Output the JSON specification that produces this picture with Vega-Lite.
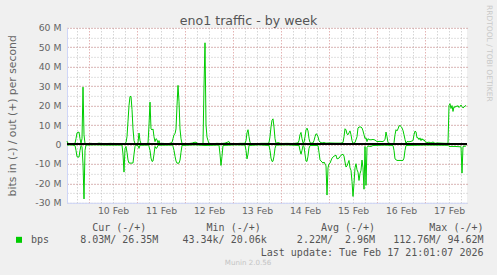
{
"$schema": "https://vega.github.io/schema/vega-lite/v6.json",
"autosize": "none",
"width": 400, "height": 175,
"padding": {"left": 67, "top": 27.83, "right": 30, "bottom": 72.17},
"background": "#f0f0f0",
"view": {"fill": "#ffffff", "stroke": null},
"title": {"text": "Munin 2.0.56", "orient": "bottom", "anchor": "middle", "frame": "group", "dx": -19, "offset": 2, "font": "DejaVu Sans", "fontSize": 7.1, "fontWeight": "normal", "color": "#c4c4c4"},
"config": {"font": "DejaVu Sans"},
"data": {"values": [
{"t":"2026-02-09T13:00Z","d":"o","v":1.7},{"t":"2026-02-09T13:30Z","d":"o","v":0.6},{"t":"2026-02-09T14:30Z","d":"o","v":0.4},{"t":"2026-02-09T16:00Z","d":"o","v":0.5},{"t":"2026-02-09T17:00Z","d":"o","v":0.6},{"t":"2026-02-09T17:30Z","d":"o","v":3},{"t":"2026-02-09T18:00Z","d":"o","v":6},{"t":"2026-02-09T19:00Z","d":"o","v":6.4},{"t":"2026-02-09T19:30Z","d":"o","v":3},{"t":"2026-02-09T20:00Z","d":"o","v":0.5},{"t":"2026-02-09T20:30Z","d":"o","v":3},{"t":"2026-02-09T21:00Z","d":"o","v":29.5},{"t":"2026-02-09T21:30Z","d":"o","v":5},{"t":"2026-02-09T22:00Z","d":"o","v":0.5},{"t":"2026-02-09T23:00Z","d":"o","v":0.4},
{"t":"2026-02-10T01:00Z","d":"o","v":0.6},{"t":"2026-02-10T03:00Z","d":"o","v":0.3},{"t":"2026-02-10T05:00Z","d":"o","v":0.7},{"t":"2026-02-10T07:00Z","d":"o","v":0.4},{"t":"2026-02-10T09:00Z","d":"o","v":0.5},{"t":"2026-02-10T11:00Z","d":"o","v":0.6},{"t":"2026-02-10T13:00Z","d":"o","v":0.3},{"t":"2026-02-10T15:00Z","d":"o","v":0.5},{"t":"2026-02-10T17:00Z","d":"o","v":0.3},{"t":"2026-02-10T18:00Z","d":"o","v":0.5},{"t":"2026-02-10T18:30Z","d":"o","v":1},{"t":"2026-02-10T19:00Z","d":"o","v":4},{"t":"2026-02-10T19:30Z","d":"o","v":12},{"t":"2026-02-10T20:00Z","d":"o","v":20},{"t":"2026-02-10T20:30Z","d":"o","v":24.7},{"t":"2026-02-10T21:00Z","d":"o","v":24.7},{"t":"2026-02-10T21:30Z","d":"o","v":18},{"t":"2026-02-10T22:00Z","d":"o","v":8},{"t":"2026-02-10T22:30Z","d":"o","v":2},{"t":"2026-02-10T23:00Z","d":"o","v":0.5},
{"t":"2026-02-11T00:00Z","d":"o","v":0.4},{"t":"2026-02-11T00:30Z","d":"o","v":1},{"t":"2026-02-11T01:00Z","d":"o","v":5.9},{"t":"2026-02-11T01:30Z","d":"o","v":2},{"t":"2026-02-11T02:00Z","d":"o","v":0.5},{"t":"2026-02-11T03:30Z","d":"o","v":0.4},{"t":"2026-02-11T05:30Z","d":"o","v":0.6},{"t":"2026-02-11T06:00Z","d":"o","v":10},{"t":"2026-02-11T06:30Z","d":"o","v":21.8},{"t":"2026-02-11T07:00Z","d":"o","v":8},{"t":"2026-02-11T07:30Z","d":"o","v":7.5},{"t":"2026-02-11T08:00Z","d":"o","v":8},{"t":"2026-02-11T08:30Z","d":"o","v":4},{"t":"2026-02-11T09:00Z","d":"o","v":1.5},{"t":"2026-02-11T09:30Z","d":"o","v":3},{"t":"2026-02-11T10:00Z","d":"o","v":2.5},{"t":"2026-02-11T10:30Z","d":"o","v":0.8},{"t":"2026-02-11T11:00Z","d":"o","v":2},{"t":"2026-02-11T11:30Z","d":"o","v":0.5},{"t":"2026-02-11T13:00Z","d":"o","v":0.6},{"t":"2026-02-11T14:30Z","d":"o","v":0.4},{"t":"2026-02-11T16:00Z","d":"o","v":0.5},{"t":"2026-02-11T17:30Z","d":"o","v":1},{"t":"2026-02-11T18:00Z","d":"o","v":3},{"t":"2026-02-11T18:30Z","d":"o","v":5},{"t":"2026-02-11T19:00Z","d":"o","v":5.5},{"t":"2026-02-11T19:30Z","d":"o","v":8},{"t":"2026-02-11T20:00Z","d":"o","v":20},{"t":"2026-02-11T20:30Z","d":"o","v":30.4},{"t":"2026-02-11T21:00Z","d":"o","v":22},{"t":"2026-02-11T21:30Z","d":"o","v":8},{"t":"2026-02-11T22:00Z","d":"o","v":3},{"t":"2026-02-11T22:30Z","d":"o","v":0.5},
{"t":"2026-02-12T00:00Z","d":"o","v":0.3},{"t":"2026-02-12T02:00Z","d":"o","v":0.5},{"t":"2026-02-12T04:00Z","d":"o","v":0.8},{"t":"2026-02-12T04:30Z","d":"o","v":1.2},{"t":"2026-02-12T05:00Z","d":"o","v":1},{"t":"2026-02-12T05:30Z","d":"o","v":1.3},{"t":"2026-02-12T06:00Z","d":"o","v":0.6},{"t":"2026-02-12T08:00Z","d":"o","v":0.4},{"t":"2026-02-12T09:00Z","d":"o","v":0.5},{"t":"2026-02-12T09:30Z","d":"o","v":30},{"t":"2026-02-12T10:00Z","d":"o","v":52.3},{"t":"2026-02-12T10:30Z","d":"o","v":10},{"t":"2026-02-12T11:00Z","d":"o","v":3.8},{"t":"2026-02-12T11:30Z","d":"o","v":2},{"t":"2026-02-12T12:00Z","d":"o","v":0.5},{"t":"2026-02-12T14:00Z","d":"o","v":0.4},{"t":"2026-02-12T16:00Z","d":"o","v":0.6},{"t":"2026-02-12T18:00Z","d":"o","v":0.5},{"t":"2026-02-12T20:00Z","d":"o","v":0.7},{"t":"2026-02-12T22:00Z","d":"o","v":1.5},{"t":"2026-02-12T22:30Z","d":"o","v":0.6},
{"t":"2026-02-13T01:00Z","d":"o","v":0.4},{"t":"2026-02-13T03:30Z","d":"o","v":0.6},{"t":"2026-02-13T06:00Z","d":"o","v":0.6},{"t":"2026-02-13T06:30Z","d":"o","v":2},{"t":"2026-02-13T07:00Z","d":"o","v":6},{"t":"2026-02-13T07:30Z","d":"o","v":7.6},{"t":"2026-02-13T08:00Z","d":"o","v":4},{"t":"2026-02-13T08:30Z","d":"o","v":1},{"t":"2026-02-13T09:00Z","d":"o","v":0.5},{"t":"2026-02-13T11:30Z","d":"o","v":0.4},{"t":"2026-02-13T14:00Z","d":"o","v":0.6},{"t":"2026-02-13T17:30Z","d":"o","v":0.6},{"t":"2026-02-13T18:00Z","d":"o","v":1},{"t":"2026-02-13T18:30Z","d":"o","v":4},{"t":"2026-02-13T19:00Z","d":"o","v":9},{"t":"2026-02-13T19:30Z","d":"o","v":12.5},{"t":"2026-02-13T20:00Z","d":"o","v":13.2},{"t":"2026-02-13T20:30Z","d":"o","v":9},{"t":"2026-02-13T21:00Z","d":"o","v":3},{"t":"2026-02-13T21:30Z","d":"o","v":0.6},{"t":"2026-02-13T22:30Z","d":"o","v":1},
{"t":"2026-02-14T00:00Z","d":"o","v":0.5},{"t":"2026-02-14T03:00Z","d":"o","v":0.6},{"t":"2026-02-14T06:00Z","d":"o","v":0.5},{"t":"2026-02-14T08:30Z","d":"o","v":0.8},{"t":"2026-02-14T09:00Z","d":"o","v":2},{"t":"2026-02-14T09:30Z","d":"o","v":5},{"t":"2026-02-14T10:00Z","d":"o","v":6.2},{"t":"2026-02-14T10:30Z","d":"o","v":3},{"t":"2026-02-14T11:00Z","d":"o","v":0.8},{"t":"2026-02-14T11:30Z","d":"o","v":1},{"t":"2026-02-14T12:00Z","d":"o","v":4},{"t":"2026-02-14T12:30Z","d":"o","v":7.5},{"t":"2026-02-14T13:00Z","d":"o","v":8.4},{"t":"2026-02-14T13:30Z","d":"o","v":7},{"t":"2026-02-14T14:00Z","d":"o","v":3},{"t":"2026-02-14T14:30Z","d":"o","v":1},{"t":"2026-02-14T15:00Z","d":"o","v":0.7},{"t":"2026-02-14T16:00Z","d":"o","v":0.8},{"t":"2026-02-14T16:30Z","d":"o","v":2},{"t":"2026-02-14T17:00Z","d":"o","v":4},{"t":"2026-02-14T17:30Z","d":"o","v":5.5},{"t":"2026-02-14T18:00Z","d":"o","v":5.2},{"t":"2026-02-14T18:30Z","d":"o","v":4},{"t":"2026-02-14T19:00Z","d":"o","v":2},{"t":"2026-02-14T19:30Z","d":"o","v":1.2},{"t":"2026-02-14T20:30Z","d":"o","v":0.8},{"t":"2026-02-14T21:30Z","d":"o","v":1},{"t":"2026-02-14T22:30Z","d":"o","v":0.7},
{"t":"2026-02-15T00:00Z","d":"o","v":0.8},{"t":"2026-02-15T03:00Z","d":"o","v":0.7},{"t":"2026-02-15T06:00Z","d":"o","v":0.7},{"t":"2026-02-15T07:00Z","d":"o","v":1},{"t":"2026-02-15T07:30Z","d":"o","v":4},{"t":"2026-02-15T08:00Z","d":"o","v":8.1},{"t":"2026-02-15T08:30Z","d":"o","v":7.5},{"t":"2026-02-15T09:00Z","d":"o","v":5.4},{"t":"2026-02-15T09:30Z","d":"o","v":5},{"t":"2026-02-15T10:00Z","d":"o","v":6},{"t":"2026-02-15T10:30Z","d":"o","v":7},{"t":"2026-02-15T11:00Z","d":"o","v":5},{"t":"2026-02-15T11:30Z","d":"o","v":2},{"t":"2026-02-15T12:00Z","d":"o","v":0.5},{"t":"2026-02-15T12:30Z","d":"o","v":0.8},{"t":"2026-02-15T13:00Z","d":"o","v":1},{"t":"2026-02-15T14:00Z","d":"o","v":4},{"t":"2026-02-15T14:30Z","d":"o","v":8.5},{"t":"2026-02-15T15:00Z","d":"o","v":9},{"t":"2026-02-15T16:00Z","d":"o","v":9},{"t":"2026-02-15T16:30Z","d":"o","v":8.5},{"t":"2026-02-15T17:00Z","d":"o","v":7},{"t":"2026-02-15T17:30Z","d":"o","v":5},{"t":"2026-02-15T18:00Z","d":"o","v":3},{"t":"2026-02-15T18:30Z","d":"o","v":3.5},{"t":"2026-02-15T19:00Z","d":"o","v":1.5},{"t":"2026-02-15T19:30Z","d":"o","v":3},{"t":"2026-02-15T20:00Z","d":"o","v":2.5},{"t":"2026-02-15T21:00Z","d":"o","v":2.4},{"t":"2026-02-15T22:00Z","d":"o","v":2.6},{"t":"2026-02-15T23:00Z","d":"o","v":2.3},
{"t":"2026-02-16T00:00Z","d":"o","v":1.5},{"t":"2026-02-16T01:30Z","d":"o","v":1.6},{"t":"2026-02-16T03:00Z","d":"o","v":1.5},{"t":"2026-02-16T04:00Z","d":"o","v":2.5},{"t":"2026-02-16T04:30Z","d":"o","v":6.4},{"t":"2026-02-16T05:00Z","d":"o","v":4},{"t":"2026-02-16T05:30Z","d":"o","v":1},{"t":"2026-02-16T06:30Z","d":"o","v":0.4},{"t":"2026-02-16T08:00Z","d":"o","v":0.4},{"t":"2026-02-16T08:30Z","d":"o","v":1},{"t":"2026-02-16T09:00Z","d":"o","v":5},{"t":"2026-02-16T09:30Z","d":"o","v":7.6},{"t":"2026-02-16T10:00Z","d":"o","v":7},{"t":"2026-02-16T10:30Z","d":"o","v":8},{"t":"2026-02-16T11:00Z","d":"o","v":9.5},{"t":"2026-02-16T11:30Z","d":"o","v":9.8},{"t":"2026-02-16T12:00Z","d":"o","v":9.3},{"t":"2026-02-16T12:30Z","d":"o","v":8.5},{"t":"2026-02-16T13:00Z","d":"o","v":7.2},{"t":"2026-02-16T13:30Z","d":"o","v":5},{"t":"2026-02-16T14:00Z","d":"o","v":2.6},{"t":"2026-02-16T14:30Z","d":"o","v":0.5},{"t":"2026-02-16T15:00Z","d":"o","v":1.5},{"t":"2026-02-16T16:00Z","d":"o","v":1.4},{"t":"2026-02-16T17:00Z","d":"o","v":1.6},{"t":"2026-02-16T18:00Z","d":"o","v":2},{"t":"2026-02-16T18:30Z","d":"o","v":5},{"t":"2026-02-16T19:00Z","d":"o","v":6.9},{"t":"2026-02-16T19:30Z","d":"o","v":6.5},{"t":"2026-02-16T20:00Z","d":"o","v":3.4},{"t":"2026-02-16T20:30Z","d":"o","v":3.5},{"t":"2026-02-16T21:00Z","d":"o","v":2.5},{"t":"2026-02-16T21:30Z","d":"o","v":3.4},{"t":"2026-02-16T22:00Z","d":"o","v":2},{"t":"2026-02-16T22:30Z","d":"o","v":3},{"t":"2026-02-16T23:00Z","d":"o","v":2.2},{"t":"2026-02-16T23:30Z","d":"o","v":2.5},
{"t":"2026-02-17T00:00Z","d":"o","v":1.5},{"t":"2026-02-17T01:00Z","d":"o","v":1},{"t":"2026-02-17T02:00Z","d":"o","v":1.2},{"t":"2026-02-17T03:00Z","d":"o","v":0.8},{"t":"2026-02-17T04:00Z","d":"o","v":1.3},{"t":"2026-02-17T05:00Z","d":"o","v":0.6},{"t":"2026-02-17T06:00Z","d":"o","v":0.8},{"t":"2026-02-17T08:00Z","d":"o","v":0.7},{"t":"2026-02-17T10:00Z","d":"o","v":0.6},{"t":"2026-02-17T11:30Z","d":"o","v":0.6},{"t":"2026-02-17T12:00Z","d":"o","v":20},{"t":"2026-02-17T12:30Z","d":"o","v":21},{"t":"2026-02-17T13:00Z","d":"o","v":18.5},{"t":"2026-02-17T13:30Z","d":"o","v":20},{"t":"2026-02-17T14:00Z","d":"o","v":17},{"t":"2026-02-17T14:30Z","d":"o","v":19.5},{"t":"2026-02-17T15:00Z","d":"o","v":19},{"t":"2026-02-17T15:30Z","d":"o","v":19.8},{"t":"2026-02-17T16:00Z","d":"o","v":19.5},{"t":"2026-02-17T16:30Z","d":"o","v":20},{"t":"2026-02-17T17:00Z","d":"o","v":19},{"t":"2026-02-17T17:30Z","d":"o","v":19.6},{"t":"2026-02-17T18:00Z","d":"o","v":20.3},{"t":"2026-02-17T18:30Z","d":"o","v":19.5},{"t":"2026-02-17T19:00Z","d":"o","v":18.8},{"t":"2026-02-17T19:30Z","d":"o","v":19.2},{"t":"2026-02-17T20:00Z","d":"o","v":19.8},{"t":"2026-02-17T20:30Z","d":"o","v":20},
{"t":"2026-02-09T13:00Z","d":"i","v":-0.3},{"t":"2026-02-09T15:00Z","d":"i","v":-0.2},{"t":"2026-02-09T17:00Z","d":"i","v":-0.5},{"t":"2026-02-09T17:30Z","d":"i","v":-3},{"t":"2026-02-09T18:00Z","d":"i","v":-6.3},{"t":"2026-02-09T19:00Z","d":"i","v":-6.5},{"t":"2026-02-09T19:30Z","d":"i","v":-3},{"t":"2026-02-09T20:00Z","d":"i","v":-0.5},{"t":"2026-02-09T20:30Z","d":"i","v":-1},{"t":"2026-02-09T21:00Z","d":"i","v":-10},{"t":"2026-02-09T21:30Z","d":"i","v":-28},{"t":"2026-02-09T22:00Z","d":"i","v":-3},{"t":"2026-02-09T22:30Z","d":"i","v":-0.3},
{"t":"2026-02-10T03:00Z","d":"i","v":-0.2},{"t":"2026-02-10T09:00Z","d":"i","v":-0.3},{"t":"2026-02-10T16:30Z","d":"i","v":-0.3},{"t":"2026-02-10T17:00Z","d":"i","v":-5},{"t":"2026-02-10T17:30Z","d":"i","v":-14.2},{"t":"2026-02-10T18:00Z","d":"i","v":-2},{"t":"2026-02-10T18:30Z","d":"i","v":-1},{"t":"2026-02-10T19:00Z","d":"i","v":-4},{"t":"2026-02-10T19:30Z","d":"i","v":-8},{"t":"2026-02-10T20:00Z","d":"i","v":-9.5},{"t":"2026-02-10T21:00Z","d":"i","v":-9.6},{"t":"2026-02-10T22:00Z","d":"i","v":-9.5},{"t":"2026-02-10T22:30Z","d":"i","v":-5},{"t":"2026-02-10T23:00Z","d":"i","v":-1},{"t":"2026-02-10T23:30Z","d":"i","v":-0.3},
{"t":"2026-02-11T00:30Z","d":"i","v":-0.5},{"t":"2026-02-11T01:00Z","d":"i","v":-2},{"t":"2026-02-11T01:30Z","d":"i","v":-0.4},{"t":"2026-02-11T05:30Z","d":"i","v":-0.3},{"t":"2026-02-11T06:00Z","d":"i","v":-1},{"t":"2026-02-11T06:30Z","d":"i","v":-3},{"t":"2026-02-11T07:00Z","d":"i","v":-7},{"t":"2026-02-11T07:30Z","d":"i","v":-8.7},{"t":"2026-02-11T08:00Z","d":"i","v":-8.5},{"t":"2026-02-11T08:30Z","d":"i","v":-5},{"t":"2026-02-11T09:00Z","d":"i","v":-1},{"t":"2026-02-11T09:30Z","d":"i","v":-2},{"t":"2026-02-11T10:00Z","d":"i","v":-1.7},{"t":"2026-02-11T10:30Z","d":"i","v":-0.4},{"t":"2026-02-11T17:30Z","d":"i","v":-0.3},{"t":"2026-02-11T18:00Z","d":"i","v":-1},{"t":"2026-02-11T18:30Z","d":"i","v":-3},{"t":"2026-02-11T19:00Z","d":"i","v":-6},{"t":"2026-02-11T19:30Z","d":"i","v":-8.5},{"t":"2026-02-11T20:00Z","d":"i","v":-9.6},{"t":"2026-02-11T21:00Z","d":"i","v":-9.6},{"t":"2026-02-11T21:30Z","d":"i","v":-8},{"t":"2026-02-11T22:00Z","d":"i","v":-4},{"t":"2026-02-11T22:30Z","d":"i","v":-0.5},
{"t":"2026-02-12T05:00Z","d":"i","v":-0.2},{"t":"2026-02-12T10:00Z","d":"i","v":-0.5},{"t":"2026-02-12T17:00Z","d":"i","v":-0.3},{"t":"2026-02-12T17:30Z","d":"i","v":-5},{"t":"2026-02-12T18:00Z","d":"i","v":-10.8},{"t":"2026-02-12T18:30Z","d":"i","v":-6},{"t":"2026-02-12T19:00Z","d":"i","v":-0.5},
{"t":"2026-02-13T01:00Z","d":"i","v":-0.2},{"t":"2026-02-13T06:00Z","d":"i","v":-0.3},{"t":"2026-02-13T06:30Z","d":"i","v":-3},{"t":"2026-02-13T07:00Z","d":"i","v":-7.4},{"t":"2026-02-13T07:30Z","d":"i","v":-5},{"t":"2026-02-13T08:00Z","d":"i","v":-0.5},{"t":"2026-02-13T13:00Z","d":"i","v":-0.2},{"t":"2026-02-13T18:00Z","d":"i","v":-0.5},{"t":"2026-02-13T18:30Z","d":"i","v":-3},{"t":"2026-02-13T19:00Z","d":"i","v":-7},{"t":"2026-02-13T19:30Z","d":"i","v":-8.7},{"t":"2026-02-13T20:00Z","d":"i","v":-8.6},{"t":"2026-02-13T20:30Z","d":"i","v":-6},{"t":"2026-02-13T21:00Z","d":"i","v":-2},{"t":"2026-02-13T21:30Z","d":"i","v":-0.3},
{"t":"2026-02-14T03:00Z","d":"i","v":-0.2},{"t":"2026-02-14T09:00Z","d":"i","v":-0.5},{"t":"2026-02-14T09:30Z","d":"i","v":-3},{"t":"2026-02-14T10:00Z","d":"i","v":-5},{"t":"2026-02-14T10:30Z","d":"i","v":-3},{"t":"2026-02-14T11:00Z","d":"i","v":-0.5},{"t":"2026-02-14T11:30Z","d":"i","v":-1},{"t":"2026-02-14T12:00Z","d":"i","v":-5},{"t":"2026-02-14T12:30Z","d":"i","v":-8.5},{"t":"2026-02-14T13:00Z","d":"i","v":-8.7},{"t":"2026-02-14T13:30Z","d":"i","v":-6},{"t":"2026-02-14T14:00Z","d":"i","v":-2},{"t":"2026-02-14T14:30Z","d":"i","v":-0.5},{"t":"2026-02-14T18:30Z","d":"i","v":-0.5},{"t":"2026-02-14T19:00Z","d":"i","v":-4},{"t":"2026-02-14T19:30Z","d":"i","v":-7.9},{"t":"2026-02-14T20:00Z","d":"i","v":-8.5},{"t":"2026-02-14T20:30Z","d":"i","v":-9},{"t":"2026-02-14T21:00Z","d":"i","v":-9.6},{"t":"2026-02-14T21:30Z","d":"i","v":-9},{"t":"2026-02-14T22:00Z","d":"i","v":-10},{"t":"2026-02-14T22:30Z","d":"i","v":-11},{"t":"2026-02-14T23:00Z","d":"i","v":-26},{"t":"2026-02-14T23:30Z","d":"i","v":-12},
{"t":"2026-02-15T00:00Z","d":"i","v":-10},{"t":"2026-02-15T00:30Z","d":"i","v":-9.6},{"t":"2026-02-15T01:30Z","d":"i","v":-7},{"t":"2026-02-15T02:30Z","d":"i","v":-6},{"t":"2026-02-15T03:30Z","d":"i","v":-5.5},{"t":"2026-02-15T04:00Z","d":"i","v":-7.4},{"t":"2026-02-15T05:00Z","d":"i","v":-7},{"t":"2026-02-15T06:00Z","d":"i","v":-5.5},{"t":"2026-02-15T07:00Z","d":"i","v":-5},{"t":"2026-02-15T07:30Z","d":"i","v":-6},{"t":"2026-02-15T08:00Z","d":"i","v":-9},{"t":"2026-02-15T08:30Z","d":"i","v":-11.6},{"t":"2026-02-15T09:00Z","d":"i","v":-11},{"t":"2026-02-15T09:30Z","d":"i","v":-9.6},{"t":"2026-02-15T10:00Z","d":"i","v":-8.2},{"t":"2026-02-15T10:30Z","d":"i","v":-12},{"t":"2026-02-15T11:00Z","d":"i","v":-13.3},{"t":"2026-02-15T11:30Z","d":"i","v":-19},{"t":"2026-02-15T12:00Z","d":"i","v":-26.7},{"t":"2026-02-15T12:30Z","d":"i","v":-20},{"t":"2026-02-15T13:00Z","d":"i","v":-12},{"t":"2026-02-15T13:30Z","d":"i","v":-9.9},{"t":"2026-02-15T14:00Z","d":"i","v":-13},{"t":"2026-02-15T14:30Z","d":"i","v":-14.2},{"t":"2026-02-15T15:00Z","d":"i","v":-18.5},{"t":"2026-02-15T15:30Z","d":"i","v":-15},{"t":"2026-02-15T16:00Z","d":"i","v":-13.3},{"t":"2026-02-15T16:30Z","d":"i","v":-8},{"t":"2026-02-15T17:00Z","d":"i","v":-12},{"t":"2026-02-15T17:30Z","d":"i","v":-23},{"t":"2026-02-15T18:00Z","d":"i","v":-1},{"t":"2026-02-15T18:30Z","d":"i","v":-21},{"t":"2026-02-15T19:00Z","d":"i","v":-1.5},{"t":"2026-02-15T19:30Z","d":"i","v":-0.8},{"t":"2026-02-15T21:00Z","d":"i","v":-1},{"t":"2026-02-15T22:00Z","d":"i","v":-0.5},
{"t":"2026-02-16T04:00Z","d":"i","v":-0.3},{"t":"2026-02-16T08:00Z","d":"i","v":-0.5},{"t":"2026-02-16T08:30Z","d":"i","v":-3},{"t":"2026-02-16T09:00Z","d":"i","v":-7.4},{"t":"2026-02-16T10:00Z","d":"i","v":-8.2},{"t":"2026-02-16T11:30Z","d":"i","v":-8.2},{"t":"2026-02-16T13:00Z","d":"i","v":-8.2},{"t":"2026-02-16T13:30Z","d":"i","v":-7},{"t":"2026-02-16T14:00Z","d":"i","v":-3},{"t":"2026-02-16T14:30Z","d":"i","v":-0.5},
{"t":"2026-02-17T00:00Z","d":"i","v":-0.3},{"t":"2026-02-17T11:30Z","d":"i","v":-0.4},{"t":"2026-02-17T12:00Z","d":"i","v":-1},{"t":"2026-02-17T15:00Z","d":"i","v":-1},{"t":"2026-02-17T18:00Z","d":"i","v":-1.2},{"t":"2026-02-17T18:30Z","d":"i","v":-14.7},{"t":"2026-02-17T19:00Z","d":"i","v":-1},{"t":"2026-02-17T20:30Z","d":"i","v":-0.8}
]},
"layer": [
{"mark": {"type": "line", "strokeWidth": 1},
 "encoding": {
  "x": {"field": "t", "type": "temporal",
    "scale": {"type": "utc", "domain": [1770642000000, 1771362000000]},
    "axis": {"orient": "bottom",
      "values": [1770660000000, 1770703200000, 1770724800000, 1770746400000, 1770789600000, 1770811200000, 1770832800000, 1770876000000, 1770897600000, 1770919200000, 1770962400000, 1770984000000, 1771005600000, 1771048800000, 1771070400000, 1771092000000, 1771135200000, 1771156800000, 1771178400000, 1771221600000, 1771243200000, 1771264800000, 1771308000000, 1771329600000, 1771351200000],
      "grid": true, "gridColor": "#c0c0c0", "gridDash": [1, 2], "gridWidth": 1,
      "ticks": false, "tickSize": 0, "domain": true, "domainColor": "#cfd6f8",
      "labelExpr": "utchours(datum.value) === 12 ? utcFormat(datum.value, '%d %b') : ''",
      "labelOverlap": false, "labelFlush": false, "labelBound": false, "labelPadding": 4,
      "labelFont": "DejaVu Sans", "labelFontSize": 9.3, "labelColor": "#666666",
      "title": ["Cur (-/+)\u00a0\u00a0\u00a0\u00a0\u00a0\u00a0\u00a0\u00a0\u00a0\u00a0Min (-/+)\u00a0\u00a0\u00a0\u00a0\u00a0\u00a0\u00a0\u00a0\u00a0\u00a0Avg (-/+)\u00a0\u00a0\u00a0\u00a0\u00a0\u00a0\u00a0\u00a0\u00a0Max (-/+)\u00a0", "8.03M/ 26.35M\u00a0\u00a0\u00a0\u00a043.34k/ 20.06k\u00a0\u00a0\u00a0\u00a0\u00a02.22M/\u00a0\u00a02.96M\u00a0\u00a0\u00a0112.76M/ 94.62M", "Last update: Tue Feb 17 21:01:07 2026"],
      "titleFont": "DejaVu Sans Mono", "titleFontSize": 10, "titleFontWeight": "normal", "titleColor": "#555555", "titleLimit": 1000,
      "titleAlign": "right", "titleX": 416, "titleY": 27.5, "titleBaseline": "alphabetic", "titleLineHeight": 12.5}},
  "y": {"field": "v", "type": "quantitative",
    "scale": {"domain": [-30, 60], "nice": false, "zero": false},
    "axis": {"orient": "left", "values": [-30, -25, -20, -15, -10, -5, 0, 5, 10, 15, 20, 25, 30, 35, 40, 45, 50, 55, 60],
      "grid": true, "gridColor": "#c0c0c0", "gridDash": [1, 2],
      "ticks": false, "tickSize": 0, "domainColor": "#cfd6f8",
      "labelExpr": "datum.value === 0 ? '0' : (datum.value % 10 === 0 ? datum.value + ' M' : '')",
      "labelPadding": 6, "labelFont": "DejaVu Sans", "labelFontSize": 9.3, "labelColor": "#666666",
      "labelOverlap": false, "labelFlush": false, "labelBound": false,
      "title": "bits in (-) / out (+) per second", "titleFont": "DejaVu Sans", "titleFontSize": 10.8, "titleFontWeight": "normal", "titleColor": "#666666",
      "titleAngle": -90, "titleX": -55, "titleY": 87.5, "titleAlign": "center", "titleBaseline": "middle"}},
  "color": {"field": "d", "type": "nominal", "scale": {"domain": ["o", "i"], "range": ["#00cc00", "#00cc00"]},
    "legend": {"values": ["o"], "labelExpr": "'bps'", "orient": "none", "legendX": -53, "legendY": 207, "title": null, "symbolType": "square", "symbolSize": 36, "symbolFillColor": "#00cc00", "symbolStrokeWidth": 0, "labelFont": "DejaVu Sans Mono", "labelFontSize": 10, "labelColor": "#555555", "labelOffset": 7, "padding": 0}}
 }},
{"mark": {"type": "rule", "color": "#000000", "strokeWidth": 1},
 "encoding": {"y": {"datum": 0, "type": "quantitative", "axis": null}}},
{"mark": {"type": "point", "opacity": 0},
 "encoding": {
  "x": {"field": "t", "type": "temporal", "axis": {"orient": "top", "domain": false, "ticks": false, "labels": false,
     "values": [1770681600000, 1770768000000, 1770854400000, 1770940800000, 1771027200000, 1771113600000, 1771200000000, 1771286400000],
     "grid": true, "gridColor": "#d89090", "gridDash": [1, 2], "gridWidth": 1,
     "title": "eno1 traffic - by week", "titleFont": "DejaVu Sans", "titleFontSize": 12.6, "titleFontWeight": "normal", "titleColor": "#555555",
     "titleX": 181, "titleY": -3, "titleAlign": "center", "titleBaseline": "alphabetic"}},
  "y": {"field": "v", "type": "quantitative", "axis": {"orient": "right", "domain": false, "ticks": false, "labels": false,
     "values": [-20, -10, 0, 10, 20, 30, 40, 50, 60],
     "grid": true, "gridColor": "#d89090", "gridDash": [1, 2], "gridWidth": 1,
     "title": "RRDTOOL / TOBI OETIKER", "titleFont": "DejaVu Sans", "titleFontSize": 7.5, "titleFontWeight": "normal", "titleColor": "#c8c8c8",
     "titleAngle": 90, "titleX": 21, "titleY": 25, "titleAlign": "center", "titleBaseline": "middle"}}
 }}
],
"resolve": {"axis": {"x": "independent", "y": "independent"}}
}
